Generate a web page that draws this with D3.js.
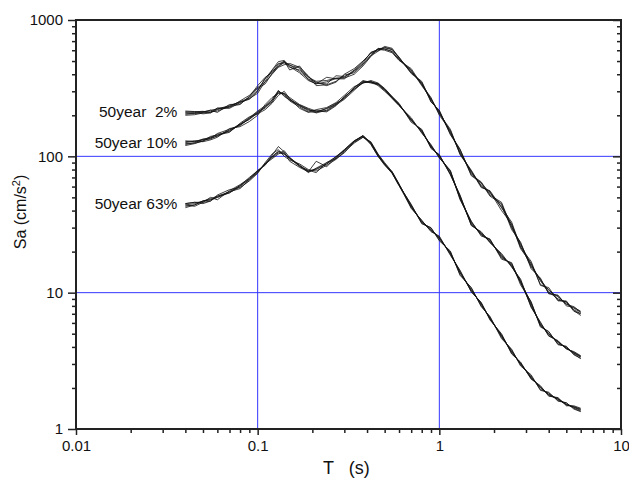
<!DOCTYPE html>
<html>
<head>
<meta charset="utf-8">
<script src="https://cdn.jsdelivr.net/npm/d3@7"></script>
<style>
  body { margin: 0; background: #fff; }
  svg { display: block; font-family: Arial, "Liberation Sans", sans-serif; }
</style>
</head>
<body>
<svg id="chart" width="629" height="478"></svg>
<script>
// periods (s) shared by every record
const periods = [0.04, 0.045, 0.05, 0.055, 0.06, 0.07, 0.08, 0.09, 0.1, 0.11, 0.12, 0.13, 0.14, 0.15, 0.17, 0.19,
  0.21, 0.24, 0.27, 0.3, 0.34, 0.38, 0.42, 0.46, 0.5, 0.55, 0.6, 0.7, 0.8, 0.9, 1.0, 1.15, 1.3, 1.5, 1.7, 1.9,
  2.2, 2.5, 2.8, 3.2, 3.6, 4.0, 4.5, 5.0, 5.5, 6.0];

// 50 year 2% records, Sa in cm/s^2
const sa2 = [
  [205, 207, 212, 218, 222, 236, 250, 262, 300, 370, 430, 495, 505, 455, 410, 360, 340, 352, 372, 380, 430, 495, 575, 610, 600, 575, 505, 440, 335, 270, 200, 155, 104, 79, 60, 55, 40, 32, 21, 16.5, 11.5, 10.6, 8.8, 8.6, 7.3, 7.0],
  [212, 210, 205, 208, 225, 228, 255, 280, 320, 350, 400, 450, 470, 480, 450, 390, 330, 335, 355, 395, 410, 470, 545, 590, 630, 610, 535, 405, 350, 250, 218, 144, 112, 72, 64, 51, 45, 29, 23.5, 15, 12.8, 9.8, 9.6, 8.0, 7.8, 7.3],
  [200, 202, 208, 212, 215, 232, 240, 275, 330, 380, 410, 470, 500, 430, 460, 380, 355, 360, 375, 375, 400, 460, 540, 620, 610, 590, 515, 430, 330, 265, 205, 158, 103, 78, 59, 56, 42, 33, 21.5, 17, 11.3, 10.9, 8.7, 8.7, 7.4, 6.8],
  [215, 213, 212, 211, 226, 225, 248, 265, 290, 355, 425, 480, 485, 470, 420, 370, 350, 330, 350, 400, 440, 500, 570, 595, 640, 620, 525, 410, 355, 252, 215, 146, 113, 73, 65, 52, 46, 30, 23, 15.4, 12.6, 9.9, 9.5, 8.2, 7.9, 7.2],
  [204, 206, 210, 218, 210, 240, 242, 272, 315, 340, 405, 460, 495, 465, 445, 365, 340, 380, 370, 370, 425, 485, 580, 605, 615, 585, 510, 425, 338, 262, 208, 152, 106, 77, 61, 53.5, 44, 31.5, 22.5, 16.2, 12.2, 10.1, 9.0, 8.5, 7.5, 7.0],
  [210, 212, 214, 209, 220, 233, 252, 268, 305, 375, 420, 455, 488, 450, 430, 385, 345, 340, 390, 385, 420, 475, 555, 615, 625, 605, 530, 415, 345, 258, 212, 149, 109, 75, 63, 54.5, 42.5, 30.5, 21.8, 15.8, 12.4, 10.4, 9.3, 8.3, 7.7, 7.15]
];

// 50 year 10% records
const sa10 = [
  [122, 126, 133, 138, 145, 152, 172, 192, 215, 235, 260, 300, 280, 255, 230, 212, 210, 225, 245, 265, 320, 355, 345, 335, 305, 265, 235, 192, 148, 122, 97, 79, 48, 33.5, 26, 24.8, 17.6, 16.6, 11.4, 8.6, 5.6, 5.2, 4.15, 4.05, 3.5, 3.3],
  [128, 130, 128, 132, 138, 160, 165, 180, 200, 240, 270, 290, 290, 270, 240, 225, 215, 212, 235, 275, 310, 345, 360, 345, 315, 275, 245, 178, 158, 114, 103, 73, 52, 31, 28, 23.2, 19.4, 15.4, 12.6, 7.8, 6.1, 4.8, 4.45, 3.85, 3.7, 3.45],
  [120, 124, 130, 140, 143, 150, 175, 195, 205, 220, 245, 280, 300, 265, 225, 210, 220, 228, 248, 280, 325, 345, 355, 330, 300, 268, 238, 188, 150, 120, 98, 78, 49, 33, 26.5, 24.5, 18, 16.4, 11.8, 8.5, 5.7, 5.15, 4.2, 4.0, 3.55, 3.28],
  [130, 128, 134, 135, 147, 158, 168, 190, 212, 230, 258, 305, 275, 260, 238, 222, 208, 218, 242, 268, 318, 360, 348, 342, 312, 272, 242, 182, 156, 116, 102, 74, 51.5, 31.3, 27.6, 23.5, 19, 15.6, 12.3, 7.9, 6.0, 4.85, 4.4, 3.9, 3.65, 3.42],
  [124, 125, 129, 137, 140, 156, 172, 186, 210, 226, 252, 292, 286, 258, 236, 216, 216, 215, 238, 262, 305, 352, 350, 338, 308, 270, 240, 186, 152, 119, 100, 77, 50.5, 32.4, 27.2, 24.2, 18.3, 16.1, 12.1, 8.3, 5.8, 5.0, 4.3, 3.95, 3.6, 3.36],
  [126, 129, 132, 134, 142, 154, 170, 189, 206, 232, 250, 298, 288, 264, 234, 220, 212, 224, 240, 272, 312, 348, 353, 340, 310, 270, 238, 184, 154, 117, 101, 75, 49.5, 31.8, 26.8, 23.8, 18.7, 15.8, 11.9, 8.1, 5.85, 4.95, 4.35, 3.92, 3.62, 3.4]
];

// 50 year 63% records
const sa63 = [
  [43, 44, 47, 49, 51, 54, 61, 70, 78, 87, 98, 106, 104, 98, 86, 76, 82, 90, 99, 112, 130, 142, 123, 100, 86, 75, 61, 44.5, 32, 30, 24, 20.2, 13.4, 10.9, 7.9, 6.7, 4.6, 3.85, 2.9, 2.5, 1.92, 1.86, 1.6, 1.56, 1.4, 1.34],
  [45, 46, 45, 47, 52, 57, 59, 66, 75, 90, 104, 112, 100, 94, 88, 80, 78, 86, 95, 108, 125, 138, 128, 104, 90, 77, 63, 41.5, 34, 28, 26, 18.8, 14.6, 10.1, 8.5, 6.3, 5.0, 3.55, 3.1, 2.32, 2.08, 1.74, 1.7, 1.48, 1.48, 1.42],
  [44, 43, 46, 50, 48, 56, 62, 69, 79, 86, 102, 118, 108, 92, 83, 77, 92, 84, 98, 112, 130, 140, 122, 100, 87, 76, 62, 44, 32.5, 29.8, 24.4, 19.9, 13.6, 10.8, 8.0, 6.6, 4.7, 3.8, 2.95, 2.45, 1.95, 1.84, 1.62, 1.55, 1.42, 1.35],
  [42, 44, 47, 48, 50, 55, 58, 67, 76, 88, 96, 104, 110, 98, 84, 79, 76, 90, 96, 106, 128, 142, 126, 103, 88, 75, 61, 42, 33.8, 28.4, 25.6, 19.1, 14.4, 10.2, 8.4, 6.4, 4.9, 3.6, 3.05, 2.35, 2.05, 1.76, 1.68, 1.5, 1.46, 1.4],
  [45, 46, 46, 47, 51, 55, 61, 68, 77, 89, 99, 108, 104, 97, 86, 78, 80, 88, 100, 110, 127, 138, 126, 102, 88, 77, 62, 43.2, 33.2, 29.2, 25, 19.6, 14, 10.5, 8.2, 6.5, 4.8, 3.7, 3.0, 2.4, 2.0, 1.8, 1.65, 1.52, 1.44, 1.37],
  [44, 45, 47, 48, 50, 54, 60, 68, 78, 88, 100, 109, 106, 96, 85, 77, 81, 88, 97, 110, 129, 141, 125, 102, 88, 76, 62, 42.8, 32.8, 28.8, 25.2, 19.4, 14.1, 10.4, 8.3, 6.45, 4.85, 3.68, 3.02, 2.38, 2.02, 1.79, 1.66, 1.51, 1.45, 1.39]
];

const groupLabels = ["50year  2%", "50year 10%", "50year 63%"];
const xMajor = [0.01, 0.1, 1, 10];
const yMajor = [1, 10, 100, 1000];
const xGrid = [0.1, 1];
const yGrid = [10, 100];

const svg = d3.select("#chart");
const margin = { top: 20, right: 8, bottom: 49, left: 76 };
const width = 629, height = 478;

const x = d3.scaleLog().domain([0.01, 10]).range([margin.left, width - margin.right]);
const y = d3.scaleLog().domain([1, 1000]).range([height - margin.bottom, margin.top]);

// blue grid lines
svg.append("g").selectAll("line").data(xGrid).enter().append("line")
  .attr("x1", d => x(d)).attr("x2", d => x(d))
  .attr("y1", y(1000)).attr("y2", y(1))
  .attr("stroke", "#3535ff").attr("stroke-width", 1);
svg.append("g").selectAll("line").data(yGrid).enter().append("line")
  .attr("x1", x(0.01)).attr("x2", x(10))
  .attr("y1", d => y(d)).attr("y2", d => y(d))
  .attr("stroke", "#3535ff").attr("stroke-width", 1);

// curves
const line = d3.line()
  .x((_, i) => x(periods[i]))
  .y(d => y(d));

[sa2, sa10, sa63].forEach(group => {
  svg.append("g").selectAll("path").data(group).enter().append("path")
    .attr("d", line)
    .attr("fill", "none")
    .attr("stroke", "#111")
    .attr("stroke-width", 0.8);
});

// axes
const minorX = x.ticks().filter(d => !xMajor.includes(d));
const minorY = y.ticks().filter(d => !yMajor.includes(d));

function styleAxis(g) {
  g.select(".domain").remove();
  g.selectAll(".tick line").attr("stroke", "#222").attr("stroke-width", 1.5);
  g.selectAll(".tick text").attr("fill", "#111").style("font-size", "15px")
    .style("font-family", "Arial, 'Liberation Sans', sans-serif");
}

const xb = height - margin.bottom;
svg.append("g").attr("transform", `translate(0,${xb})`)
  .call(d3.axisBottom(x).tickValues(minorX).tickSize(4).tickFormat(""))
  .call(styleAxis);
svg.append("g").attr("transform", `translate(0,${xb})`)
  .call(d3.axisBottom(x).tickValues(xMajor).tickSize(6).tickPadding(5).tickFormat(d3.format("")))
  .call(styleAxis);

svg.append("g").attr("transform", `translate(${margin.left},0)`)
  .call(d3.axisLeft(y).tickValues(minorY).tickSize(4).tickFormat(""))
  .call(styleAxis);
svg.append("g").attr("transform", `translate(${margin.left},0)`)
  .call(d3.axisLeft(y).tickValues(yMajor).tickSize(8).tickPadding(5).tickFormat(d3.format("")))
  .call(styleAxis);

// right side ticks point inward
svg.append("g").attr("transform", `translate(${width - margin.right},0)`)
  .call(d3.axisLeft(y).tickValues(minorY).tickSize(4).tickFormat(""))
  .call(styleAxis);
svg.append("g").attr("transform", `translate(${width - margin.right},0)`)
  .call(d3.axisLeft(y).tickValues(yMajor).tickSize(8).tickFormat(""))
  .call(styleAxis);

// frame
svg.append("rect")
  .attr("x", margin.left).attr("y", margin.top)
  .attr("width", width - margin.left - margin.right)
  .attr("height", height - margin.top - margin.bottom)
  .attr("fill", "none").attr("stroke", "#222").attr("stroke-width", 2);

// group labels
[sa2, sa10, sa63].forEach((group, i) => {
  svg.append("text")
    .attr("x", x(periods[0]) - 8)
    .attr("y", y(group[0][0]) - 1)
    .attr("text-anchor", "end")
    .attr("dominant-baseline", "middle")
    .style("white-space", "pre")
    .style("font-size", "15.5px")
    .attr("fill", "#111")
    .text(groupLabels[i]);
});

// axis titles
svg.append("text")
  .attr("x", 323).attr("y", 474)
  .style("white-space", "pre")
  .style("font-size", "18px")
  .attr("fill", "#111")
  .text("T   (s)");

const yt = svg.append("text")
  .attr("transform", "translate(26,212) rotate(-90)")
  .attr("text-anchor", "middle")
  .style("font-size", "16px")
  .attr("fill", "#111");
yt.append("tspan").text("Sa (cm/s");
yt.append("tspan").attr("dy", -6).style("font-size", "11px").text("2");
yt.append("tspan").attr("dy", 6).text(")");
</script>
</body>
</html>
